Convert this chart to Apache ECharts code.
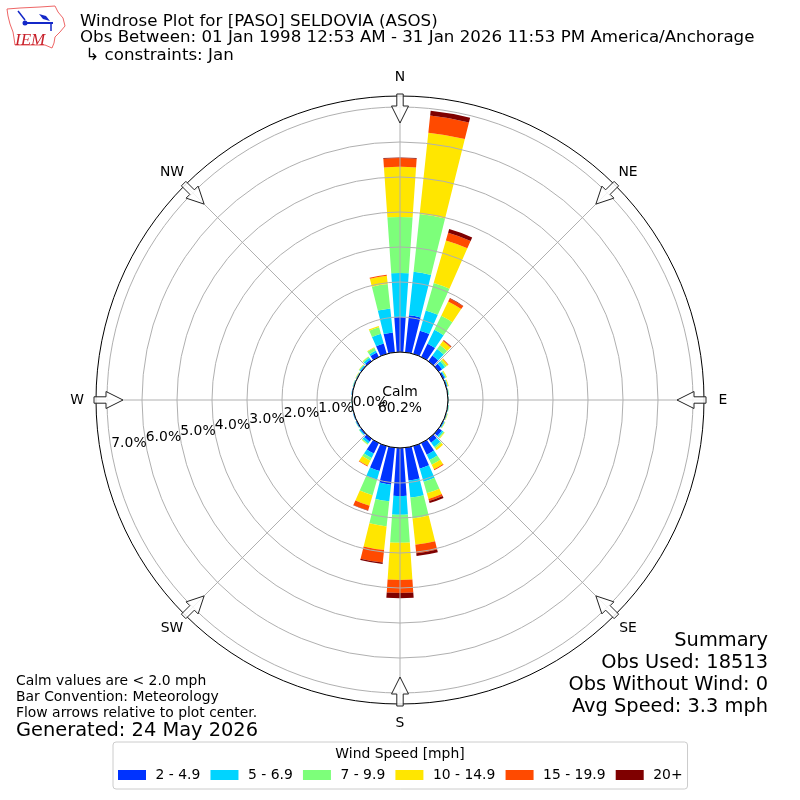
<!DOCTYPE html>
<html><head><meta charset="utf-8">
<style>html,body{margin:0;padding:0;background:#fff}#c{width:800px;height:800px}</style>
<script src="https://cdn.jsdelivr.net/npm/echarts@6/dist/echarts.min.js"></script>
</head><body><div id="c"></div>
<script>
// direction bins: index 0 = N, clockwise in 10 degree steps
const directions = ['0','10','20','30','40','50','60','70','80','90','100','110','120','130','140','150','160','170','180','190','200','210','220','230','240','250','260','270','280','290','300','310','320','330','340','350'];
const speedBins = ['2 - 4.9','5 - 6.9','7 - 9.9','10 - 14.9','15 - 19.9','20+'];
const binColors = ['#0033ff','#00d4ff','#7dff7a','#ffe600','#ff4a00','#7f0000'];
const s2to5   = [1.00,1.06,.69,.42,.20,.12,.05,.03,.02,.01,.02,.02,.03,.11,.14,.37,.67,.94,1.37,1.06,.74,.33,.10,.04,.03,.02,.01,.01,.02,.02,.02,.03,.06,.14,.31,.57];
const s5to7   = [1.26,1.25,.60,.44,.23,.10,.03,.02,.01,.01,.01,.01,.02,.05,.15,.17,.39,.49,.54,.48,.26,.14,.07,.03,.01,.01,.01,.01,.01,.01,.01,.03,.06,.06,.29,.69];
const s7to10  = [1.60,1.66,.82,.45,.14,.06,.02,.01,.01,.01,.01,.01,.01,.03,.05,.15,.34,.60,.80,.72,.46,.09,.03,.01,.01,0,0,.01,0,.01,.01,.02,.04,.09,.19,.70];
const s10to15 = [1.43,2.34,1.26,.45,.14,.05,.02,.02,0,0,0,.01,.01,.02,.06,.14,.17,.76,1.06,.68,.31,.16,.01,0,0,0,0,0,0,0,.01,.01,.01,.02,.04,.24];
const s15to20 = [.25,.49,.23,.10,.03,.01,0,0,0,0,0,0,0,0,0,.03,.06,.24,.37,.36,.14,.02,0,0,0,0,0,0,0,0,0,0,0,0,0,.03];
const s20plus = [.02,.14,.11,.01,.01,0,0,0,0,0,0,0,0,0,0,0,.06,.08,.15,.04,.01,0,0,0,0,0,0,0,0,0,0,0,0,0,0,0];
const binValues = [s2to5,s5to7,s7to10,s10to15,s15to20,s20plus];
const compass = {0:'N',45:'NE',90:'E',135:'SE',180:'S',225:'SW',270:'W',315:'NW'};
const titleLines = ['Windrose Plot for [PASO] SELDOVIA (ASOS)','Obs Between: 01 Jan 1998 12:53 AM - 31 Jan 2026 11:53 PM America/Anchorage',' ↳ constraints: Jan'];
const summaryLines = ['Summary','Obs Used: 18513','Obs Without Wind: 0','Avg Speed: 3.3 mph'];
const noteLines = ['Calm values are < 2.0 mph','Bar Convention: Meteorology','Flow arrows relative to plot center.'];

const FONT = '"DejaVu Sans"';
const CX = 400, CY = 400;
function txt(text, pos, size, extra){
  return Object.assign({text, textStyle:Object.assign({fontFamily:FONT,fontSize:size,fontWeight:'normal',color:'#000'},extra||{}),padding:0,itemGap:0},pos);
}
const titles = [
  txt(titleLines[0],{left:80,top:13},16.67),
  txt(titleLines[1],{left:80,top:29},16.67),
  txt(titleLines[2],{left:80,top:47},16.67),
  txt('Calm',{left:400,top:385,textAlign:'center'},13.9),
  txt('60.2%',{left:400,top:401,textAlign:'center'},13.9),
  txt(noteLines[0],{left:16,top:674},13.9),
  txt(noteLines[1],{left:16,top:690},13.9),
  txt(noteLines[2],{left:16,top:706},13.9),
  txt('Generated: 24 May 2026',{left:16,top:721},19.4),
  txt('Wind Speed [mph]',{left:400,top:747,textAlign:'center'},13.9)
];
summaryLines.forEach((t,i)=>titles.push(txt(t,{right:32,top:631+i*22},19.4)));
// compass labels, centred on a ring just outside the plot
Object.keys(compass).forEach(d=>{
  const a = d*Math.PI/180;
  titles.push(txt(compass[d],{left:Math.round(CX+323*Math.sin(a)),top:Math.round(CY-323*Math.cos(a))-7,textAlign:'center'},13.9));
});

// decorative flow arrows on the 8 compass directions
function arrow(deg){
  const a = deg*Math.PI/180, ux = Math.sin(a), uy = -Math.cos(a), px = -uy, py = ux;
  const P = (r,w)=>[CX+ux*r+px*w, CY+uy*r+py*w];
  return {type:'polygon',z:60,silent:true,
    shape:{points:[P(306,-3.2),P(306,3.2),P(294,3.2),P(294,8.5),P(277,0),P(294,-8.5),P(294,-3.2)]},
    style:{fill:'rgba(255,255,255,0.85)',stroke:'#222',lineWidth:1}};
}
const arrows = Object.keys(compass).map(d=>arrow(+d));

// IEM logo
const logo = [
  {type:'polygon',z:60,silent:true,shape:{points:[[7,9],[20,8],[40,7],[55,6],[58,12],[63,18],[65,26],[60,32],[55,37],[54,43],[52,48],[45,45],[30,45],[15,45],[14,38],[13,32],[10,24],[8,16]]},style:{fill:'#fff',stroke:'#e66',lineWidth:1}},
  {type:'polyline',z:61,silent:true,shape:{points:[[25,23],[53,23]]},style:{stroke:'#1428c8',lineWidth:2,fill:null}},
  {type:'polyline',z:61,silent:true,shape:{points:[[18,11],[25,20]]},style:{stroke:'#1428c8',lineWidth:1.5,fill:null}},
  {type:'polygon',z:61,silent:true,shape:{points:[[39,14],[46,16],[50,21],[43,19]]},style:{fill:'#1428c8'}},
  {type:'polyline',z:61,silent:true,shape:{points:[[51,23],[51,31]]},style:{stroke:'#1428c8',lineWidth:1.5,fill:null}},
  {type:'circle',z:61,silent:true,shape:{cx:25,cy:23,r:2.5},style:{fill:'#1428c8'}},
  {type:'text',z:61,silent:true,style:{text:'IEM',x:15,y:32,fill:'#c8202a',font:'italic 17px "Liberation Serif"'}}
];

const series = speedBins.map((name,i)=>({
  name, type:'bar', coordinateSystem:'polar', polarIndex:0, stack:'wind', barWidth:'79%',
  data:binValues[i], itemStyle:{color:binColors[i]}, silent:true, z:2
}));

const chart = echarts.init(document.getElementById('c'),null,{renderer:'canvas'});
chart.setOption({
  animation:false, backgroundColor:'#fff',
  title:titles,
  polar:[
    {center:[CX,CY],radius:[48,293]},
    {center:[CX,CY],radius:[48,304]},
    {center:[CX,CY-3],radius:[12.5,292.5]}
  ],
  angleAxis:[
    {polarIndex:0,type:'category',data:directions,startAngle:95,show:false},
    {polarIndex:1,type:'value',min:0,max:360,interval:45,startAngle:90,z:5,
     axisLine:{show:true,lineStyle:{color:'#000',width:1}},axisTick:{show:false},
     axisLabel:{show:false},
     splitLine:{show:true,lineStyle:{color:'#b0b0b0',width:1}}},
    {polarIndex:2,type:'value',min:0,max:360,startAngle:189.7,show:false}
  ],
  radiusAxis:[
    {polarIndex:0,type:'value',min:0,max:7,interval:1,z:4,axisLine:{show:false},axisTick:{show:false},axisLabel:{show:false},
     splitLine:{show:true,lineStyle:{color:'#b0b0b0',width:1}}},
    {polarIndex:1,type:'value',min:0,max:1,show:false},
    {polarIndex:2,type:'value',min:-0.5,max:7.5,interval:0.5,z:6,axisLine:{show:false},axisTick:{show:false},splitLine:{show:false},
     axisLabel:{show:true,showMinLabel:false,showMaxLabel:false,hideOverlap:false,margin:0,rotate:0,align:'center',verticalAlign:'middle',color:'#000',fontFamily:FONT,fontSize:13.9,formatter:v=>Number.isInteger(v)?v.toFixed(1)+'%':''}}
  ],
  legend:{left:113,top:742,orient:'horizontal',selectedMode:false,data:speedBins,icon:'rect',itemWidth:28,itemHeight:10,itemGap:10.2,
    padding:[26,5,7,5],borderColor:'#ccc',borderWidth:1,borderRadius:3,
    textStyle:{fontFamily:FONT,fontSize:13.9,color:'#000',padding:[0,0,0,4.5]}},
  series,
  graphic:{elements:arrows.concat(logo)}
});
</script></body></html>
